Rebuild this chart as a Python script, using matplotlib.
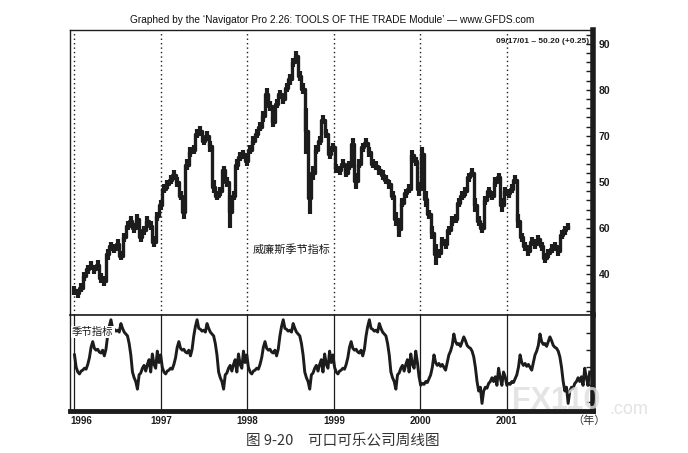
import matplotlib
matplotlib.use("Agg")
import matplotlib.pyplot as plt
import matplotlib.dates as mdates
import numpy as np
import pandas as pd

# ---------------- data ----------------
price_end = "2001-09-17"          # last bar date (biweekly bars)
price_high = [37.5, 36.8, 38.0, 40.5, 42.0, 42.8, 42.0, 43.0, 40.2, 39.5,
              45.5, 47.0, 46.5, 47.5, 45.0, 49.0, 51.5, 52.5, 51.0, 53.0,
              49.0, 50.5, 52.5, 51.5, 48.2, 53.5, 56.0, 59.5, 60.5, 61.5,
              62.5, 61.0, 58.0, 55.0, 65.0, 67.5, 68.0, 71.5, 72.2, 70.0,
              71.0, 69.0, 60.5, 58.0, 59.0, 63.5, 61.0, 57.0, 58.0, 65.0,
              66.5, 67.0, 65.5, 68.0, 70.0, 71.5, 73.0, 75.5, 80.5, 77.5,
              74.0, 78.0, 80.0, 79.0, 81.5, 83.5, 87.0, 88.5, 84.0, 81.5,
              76.0, 60.0, 63.5, 68.0, 70.0, 74.5, 71.5, 67.0, 68.5, 64.0,
              63.5, 65.0, 63.0, 64.5, 69.5, 62.0, 65.0, 68.5, 69.5, 67.5,
              65.0, 64.5, 63.5, 62.5, 61.5, 60.5, 58.0, 53.5, 51.5, 56.5,
              58.5, 59.5, 67.0, 65.5, 60.0, 67.5, 58.0, 54.0, 50.5, 46.5,
              45.5, 48.0, 47.5, 50.5, 52.5, 53.0, 56.5, 58.0, 59.0, 62.0,
              63.0, 56.5, 52.5, 51.0, 57.0, 59.0, 58.0, 61.0, 62.0, 56.5,
              59.0, 58.5, 59.5, 61.5, 53.0, 49.0, 47.0, 46.0, 48.0, 47.5,
              48.5, 47.0, 44.5, 45.5, 46.5, 47.0, 46.0, 49.5, 50.5, 51.0]
price_low = [35.5, 34.8, 36.0, 38.5, 40.0, 40.8, 40.0, 41.0, 38.0, 37.5,
             43.0, 45.0, 44.5, 45.5, 43.0, 47.0, 49.5, 50.5, 49.0, 51.0,
             47.0, 48.5, 50.5, 49.5, 45.8, 51.5, 54.0, 57.5, 58.5, 59.5,
             60.5, 59.0, 56.0, 52.0, 62.5, 65.5, 66.0, 69.5, 70.0, 68.0,
             69.0, 66.5, 57.5, 56.0, 57.0, 61.5, 59.0, 50.0, 56.0, 62.5,
             64.5, 65.0, 63.5, 66.0, 68.0, 69.5, 71.0, 73.0, 77.5, 75.5,
             72.0, 76.0, 78.0, 77.0, 79.5, 81.0, 85.0, 86.0, 82.0, 79.0,
             66.0, 53.0, 60.5, 66.0, 68.0, 72.5, 69.5, 65.0, 66.5, 62.0,
             61.5, 63.0, 61.0, 62.5, 67.0, 58.5, 63.0, 66.5, 67.5, 65.5,
             63.0, 62.5, 61.5, 60.5, 59.5, 58.5, 56.0, 50.5, 48.0, 54.5,
             56.5, 57.5, 64.5, 63.5, 57.0, 64.5, 54.5, 52.0, 47.5, 42.0,
             43.5, 46.0, 45.5, 48.5, 50.5, 51.0, 54.5, 56.0, 57.0, 60.0,
             61.0, 53.5, 50.5, 49.0, 55.0, 57.0, 56.0, 59.0, 60.0, 53.5,
             57.0, 56.5, 57.5, 59.5, 50.0, 47.0, 45.0, 44.0, 46.0, 45.5,
             46.5, 45.0, 42.5, 43.5, 44.5, 45.0, 44.0, 47.5, 48.5, 49.5]

# weekly seasonal-indicator profile (identical every year 1996-1999, lower in 2000-2001)
season_1996_1999 = [58, 45, 40, 38, 41, 42, 44, 43, 48, 55, 66, 72, 65, 63, 64, 61,
                    60, 63, 57, 64, 78, 88, 95, 86, 85, 83, 84, 82, 91, 86, 82, 80,
                    78, 70, 58, 40, 34, 30, 22, 37, 39, 44, 47, 41, 48, 53, 40, 59,
                    48, 44, 62, 50]
season_2000_2001 = [35, 26, 28, 27, 30, 29, 33, 37, 45, 58, 50, 47, 49, 46, 48, 45,
                    42, 50, 58, 62, 68, 80, 72, 69, 70, 67, 72, 77, 73, 68, 66, 65,
                    62, 56, 45, 30, 20, 24, 7, 20, 24, 23, 28, 30, 34, 30, 35, 26,
                    44, 34, 26, 40]

years = [1996, 1997, 1998, 1999, 2000, 2001]
price_ticks = [40, 50, 60, 70, 80, 90]
price_tick_labels = ["40", "60", "50", "70", "80", "90"]

title = "Graphed by the \u2018Navigator Pro 2.26: TOOLS OF THE TRADE Module\u2019 \u2014 www.GFDS.com"
last_quote = "09/17/01 \u2013 50.20 (+0.25)"
caption = "图 9-20\u3000可口可乐公司周线图"

# ---------------- figure ----------------
INK = "#1c1c1c"
CJK = ["Noto Sans CJK SC", "DejaVu Sans"]
plt.rcParams["font.family"] = ["Liberation Sans", "DejaVu Sans"]

fig = plt.figure(figsize=(6.88, 4.53), dpi=100)
fig.patch.set_facecolor("white")
W, H = 688.0, 453.0
x0, x1 = 70, 593
ax = fig.add_axes([x0 / W, 1 - 315 / H, (x1 - x0) / W, (315 - 30) / H])
ax2 = fig.add_axes([x0 / W, 1 - 411 / H, (x1 - x0) / W, (411 - 315) / H], sharex=ax)

bar_dates = pd.date_range(end=price_end, periods=len(price_high), freq="14D")
bx = mdates.date2num(bar_dates.to_pydatetime())
hi = np.array(price_high)
lo = np.array(price_low)
mid = (hi + lo) / 2
ax.vlines(bx, lo, hi, color=INK, lw=3.0, zorder=3)
ax.plot(bx, mid, color=INK, lw=2.4, drawstyle="steps-mid", zorder=3)

season = season_1996_1999 * 4 + season_2000_2001 * 2
s_dates = pd.date_range("1996-01-01", periods=len(season), freq="7D")
sx = mdates.date2num(s_dates.to_pydatetime())
ax2.plot(sx, season, color=INK, lw=2.1, zorder=3)

xl = mdates.date2num(pd.Timestamp("1995-12-13").to_pydatetime())
xr = mdates.date2num(pd.Timestamp("2001-12-31").to_pydatetime())
ax.set_xlim(xl, xr)
ax.set_ylim(31.1, 93.0)
ax2.set_ylim(-1, 100)

year_x = [mdates.date2num(pd.Timestamp(f"{y}-01-01").to_pydatetime()) for y in years]
for yx in year_x:
    ax.axvline(yx, color=INK, lw=1.0, ls=(0, (1, 2.2)), zorder=1)
    ax2.axvline(yx, color=INK, lw=0.9, zorder=1)

# spines
for a in (ax, ax2):
    a.set_facecolor("white")
    a.spines["left"].set_linewidth(1.0)
    a.spines["top"].set_linewidth(1.0)
    a.spines["right"].set_linewidth(4.0)
    for s in a.spines.values():
        s.set_color(INK)
ax.spines["bottom"].set_linewidth(1.0)
ax2.spines["top"].set_linewidth(1.2)
ax2.spines["bottom"].set_linewidth(3.5)

# ticks
ax.set_xticks([])
ax2.tick_params(axis="x", length=0, labelbottom=False)
ax.yaxis.tick_right()
ax.set_yticks(price_ticks)
ax.set_yticklabels(price_tick_labels)
ax.set_yticks(np.arange(32, 93, 2), minor=True)
ax.tick_params(axis="y", which="both", direction="in", length=5, width=1.0,
               color=INK, labelsize=7.5, pad=4, labelcolor=INK)
for t in ax.get_yticklabels():
    t.set_fontweight("bold")
ax2.yaxis.tick_right()
ax2.set_yticks([8, 26, 45, 63, 81])
ax2.tick_params(axis="y", direction="in", length=5, width=1.0, color=INK, labelright=False)

# texts
fig.text(332 / W, 1 - 20 / H, title, ha="center", va="center", fontsize=7.25, color="#111111")
ax.text(0.993, 0.958, last_quote, transform=ax.transAxes, ha="right", va="center",
        fontsize=6.0, fontweight="bold", color=INK,
        family=["Liberation Sans Narrow", "Liberation Sans"])
ax.text(mdates.date2num(pd.Timestamp("1998-01-22").to_pydatetime()), 45.3, "威廉斯季节指标",
        ha="left", va="center", fontsize=8, family=CJK, color=INK)
ax2.text(0.004, 0.82, "季节指标", transform=ax2.transAxes, ha="left", va="center",
         fontsize=7.5, family=CJK, color=INK, zorder=5,
         bbox=dict(boxstyle="square,pad=0.1", fc="white", ec="none"))

for y, yx in zip(years, year_x):
    if y == years[0]:
        ax2.text(0.0, -0.105, str(y), transform=ax2.transAxes,
                 ha="left", va="center", fontsize=7, fontweight="bold", color=INK)
    else:
        ax2.text(yx, -0.105, str(y), transform=ax2.get_xaxis_transform(),
                 ha="center", va="center", fontsize=7, fontweight="bold", color=INK)
fig.text(589 / W, 1 - 421 / H, "（年）", ha="center", va="center", fontsize=8,
         family=CJK, color="#333333")
fig.text(343 / W, 1 - 442 / H, caption, ha="center", va="center", fontsize=10.5,
         family=CJK, color="#333333")

# watermark
fig.text(556 / W, 1 - 401 / H, "FX110", ha="center", va="center", fontsize=22,
         fontweight="bold", color="#dedede", alpha=0.8, zorder=10)
fig.text(629 / W, 1 - 409 / H, ".com", ha="center", va="center", fontsize=13,
         color="#e0e0e0", alpha=0.9, zorder=10)

fig.savefig("out.png", dpi=100, facecolor="white")
